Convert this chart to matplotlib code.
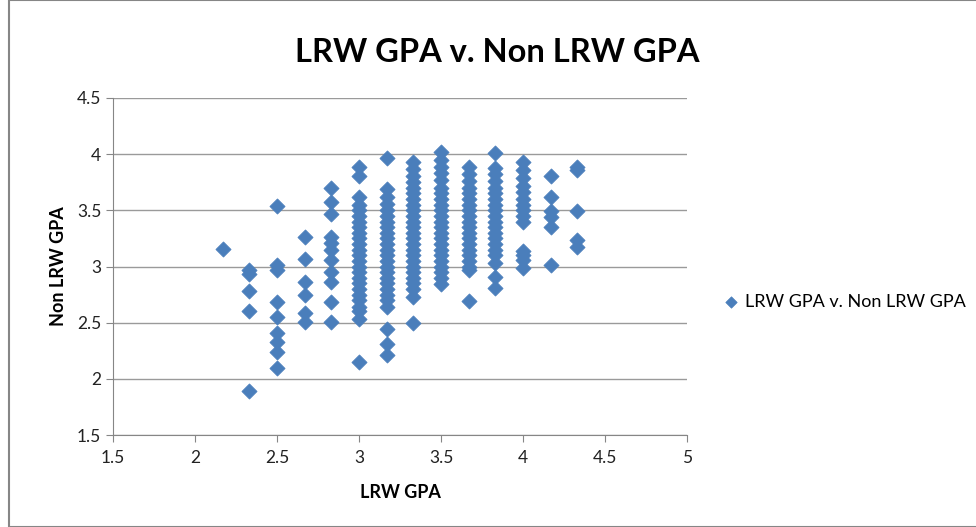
import matplotlib.pyplot as plt
from matplotlib.patches import Rectangle

# LRW GPA (x) and Non LRW GPA (y)
lrw_217 = [3.16]
lrw_233 = [2.97, 2.93, 2.78, 2.60, 1.89]
lrw_250 = [3.54, 3.01, 2.97, 2.68, 2.55, 2.41, 2.33, 2.24, 2.10]
lrw_267 = [3.26, 3.07, 2.86, 2.75, 2.59, 2.51]
lrw_283 = [3.70, 3.57, 3.47, 3.26, 3.21, 3.15, 3.06, 2.95, 2.86, 2.68, 2.51]
lrw_300 = [3.89, 3.81, 3.62, 3.55, 3.50, 3.45, 3.40, 3.35, 3.30, 3.25, 3.20,
           3.15, 3.10, 3.05, 3.00, 2.95, 2.90, 2.85, 2.80, 2.75, 2.70, 2.64,
           2.60, 2.53, 2.15]
lrw_317 = [3.97, 3.69, 3.62, 3.56, 3.50, 3.45, 3.40, 3.35, 3.30, 3.25, 3.20,
           3.15, 3.10, 3.05, 3.00, 2.95, 2.90, 2.85, 2.80, 2.75, 2.70, 2.64,
           2.44, 2.31, 2.21]
lrw_333 = [3.93, 3.87, 3.81, 3.75, 3.70, 3.65, 3.60, 3.55, 3.50, 3.45, 3.40,
           3.35, 3.30, 3.25, 3.20, 3.15, 3.10, 3.05, 3.00, 2.95, 2.90, 2.85,
           2.80, 2.73, 2.50]
lrw_350 = [4.02, 3.95, 3.89, 3.83, 3.77, 3.70, 3.65, 3.60, 3.55, 3.50, 3.45,
           3.40, 3.35, 3.30, 3.25, 3.20, 3.15, 3.10, 3.05, 3.00, 2.95, 2.90,
           2.84]
lrw_367 = [3.89, 3.82, 3.76, 3.70, 3.65, 3.60, 3.55, 3.50, 3.45, 3.40, 3.35,
           3.30, 3.25, 3.20, 3.15, 3.10, 3.05, 3.00, 2.97, 2.69]
lrw_383 = [4.01, 3.88, 3.82, 3.76, 3.70, 3.65, 3.60, 3.55, 3.50, 3.45, 3.40,
           3.35, 3.30, 3.25, 3.20, 3.15, 3.10, 3.03, 2.91, 2.81]
lrw_400 = [3.93, 3.86, 3.79, 3.72, 3.66, 3.60, 3.55, 3.50, 3.45, 3.40,
           3.14, 3.10, 3.06, 2.99]
lrw_417 = [3.81, 3.62, 3.49, 3.44, 3.35, 3.01]
lrw_433 = [3.89, 3.86, 3.49, 3.24, 3.17]

columns = [(2.17, lrw_217), (2.33, lrw_233), (2.5, lrw_250), (2.67, lrw_267),
           (2.83, lrw_283), (3.0, lrw_300), (3.17, lrw_317), (3.33, lrw_333),
           (3.5, lrw_350), (3.67, lrw_367), (3.83, lrw_383), (4.0, lrw_400),
           (4.17, lrw_417), (4.33, lrw_433)]

xs = []
ys = []
for gx, vals in columns:
    for v in vals:
        xs.append(gx)
        ys.append(v)

plt.rcParams['font.family'] = ['Lato', 'DejaVu Sans']
blue = '#4A7EBB'
grey = '#868686'

fig = plt.figure(figsize=(9.76, 5.27), dpi=100)
ax = fig.add_axes([113 / 976, 1 - 435 / 527, 574 / 976, 337 / 527])

ax.scatter(xs, ys, marker='D', s=60, color=blue, edgecolor=blue, linewidth=0.5,
           zorder=3, label='LRW GPA v. Non LRW GPA')

ax.set_xlim(1.5, 5)
ax.set_ylim(1.5, 4.5)
ax.set_xticks([1.5, 2, 2.5, 3, 3.5, 4, 4.5, 5])
ax.set_xticklabels(['1.5', '2', '2.5', '3', '3.5', '4', '4.5', '5'])
ax.set_yticks([1.5, 2, 2.5, 3, 3.5, 4, 4.5])
ax.set_yticklabels(['1.5', '2', '2.5', '3', '3.5', '4', '4.5'])
ax.grid(axis='y', color='#9a9a9a', linewidth=1)
ax.set_axisbelow(True)
for side in ['top', 'right']:
    ax.spines[side].set_visible(False)
for side in ['left', 'bottom']:
    ax.spines[side].set_color(grey)
ax.tick_params(colors=grey, labelcolor='#222222', labelsize=12.5, length=5,
               direction='out')
ax.tick_params(axis='x', pad=6)

ax.set_xlabel('LRW GPA', fontsize=13, fontweight='bold', labelpad=13)
ax.set_ylabel('Non LRW GPA', fontsize=13, fontweight='bold', labelpad=7)
fig.text(497 / 976, 1 - 52 / 527, 'LRW GPA v. Non LRW GPA', fontsize=23.5,
         fontweight='bold', ha='center', va='center')

ax.legend(loc='center left', bbox_to_anchor=(722 / 976, 1 - 302 / 527),
          bbox_transform=fig.transFigure, frameon=False, fontsize=13,
          borderpad=0, borderaxespad=0, handlelength=1.0, handletextpad=0.3,
          markerscale=0.75)

# chart border
fig.patches.append(Rectangle((9 / 976, 0), 1, 1, transform=fig.transFigure,
                             fill=False, edgecolor=grey, linewidth=1.5))

fig.savefig('out.png', dpi=100)
